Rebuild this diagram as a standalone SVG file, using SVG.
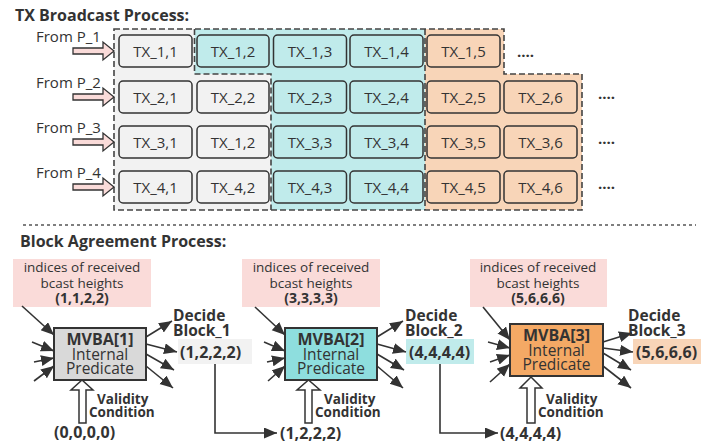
<svg xmlns="http://www.w3.org/2000/svg" width="723" height="447" viewBox="0 0 723 447">
<style>
text{font-family:"Open Sans","Noto Sans","Liberation Sans",sans-serif;fill:#333}
.title{font-size:16px;font-weight:bold}
.from{font-size:15px}
.tx{font-size:15px;text-anchor:middle}
.dots{font-size:15px;font-weight:bold}
.box{stroke:#333;stroke-width:1.5}
.g{fill:#f2f2f2}.c{fill:#c0ebeb}.o{fill:#f8d5b8}
.region{stroke:#444;stroke-width:1.6;stroke-dasharray:6 3;fill:none}
.pink{fill:#fadbd9}
.ptxt{font-size:13.5px;text-anchor:middle}
.pb{font-size:14px;font-weight:bold;text-anchor:middle}
.mv{stroke:#333;stroke-width:2}
.mvt{font-size:16px;font-weight:bold;text-anchor:middle}
.mvr{font-size:15.5px;text-anchor:middle}
.dec{font-size:15.5px;font-weight:bold}
.val{font-size:13.5px;font-weight:bold}
.tup{font-size:16px;font-weight:bold}
.ar{stroke:#333;stroke-width:1.6;fill:none;marker-end:url(#ah)}
.blk{fill:#fadbd9;stroke:#333;stroke-width:1.3}
.hol{fill:#fff;stroke:#333;stroke-width:1.5}
</style>
<defs>
<marker id="ah" markerUnits="userSpaceOnUse" markerWidth="14" markerHeight="12" refX="13" refY="5.5" orient="auto">
<path d="M0,0 L13,5.5 L0,11 z" fill="#333"/>
</marker>
</defs>

<text class="title" x="15" y="21">TX Broadcast Process:</text>

<g id="regions">
<path class="g" d="M114,29 H194.5 V74 H271 V210 H114 Z"/>
<path class="c" d="M194.5,29 H425 V210 H271 V74 H194.5 Z"/>
<path class="o" d="M425,29 H504 V74 H582 V210 H425 Z"/>
<path class="region" d="M114,29 H504 V74 H582 V210 H114 Z"/>
<path class="region" d="M194.5,29 V74 H271 V210"/>
<path class="region" d="M425,29 V210"/>
</g>

<g id="from-labels">
<text class="from" x="36" y="42">From P_1</text>
<text class="from" x="36" y="88">From P_2</text>
<text class="from" x="36" y="133">From P_3</text>
<text class="from" x="36" y="178">From P_4</text>
<path class="blk" d="M73,48 H103 V42 L114,51 L103,60 V54 H73 Z"/>
<path class="blk" d="M73,94 H103 V88 L114,97 L103,106 V100 H73 Z"/>
<path class="blk" d="M73,139 H103 V133 L114,142 L103,151 V145 H73 Z"/>
<path class="blk" d="M73,184 H103 V178 L114,187 L103,196 V190 H73 Z"/>
</g>

<g id="tx1">
<g id="tx_1_1"><rect class="box g" x="119" y="35" width="73" height="32" rx="4"/><text class="tx" x="155.5" y="57">TX_1,1</text></g>
<g id="tx_1_2"><rect class="box c" x="197" y="35" width="72" height="32" rx="4"/><text class="tx" x="233" y="57">TX_1,2</text></g>
<g id="tx_1_3"><rect class="box c" x="273.5" y="35" width="73" height="32" rx="4"/><text class="tx" x="310" y="57">TX_1,3</text></g>
<g id="tx_1_4"><rect class="box c" x="350" y="35" width="73" height="32" rx="4"/><text class="tx" x="386.5" y="57">TX_1,4</text></g>
<g id="tx_1_5"><rect class="box o" x="427" y="35" width="73" height="32" rx="4"/><text class="tx" x="463.5" y="57">TX_1,5</text></g>
<text class="dots" x="517" y="57">....</text>
</g>

<g id="tx2">
<g id="tx_2_1"><rect class="box g" x="119" y="81" width="73" height="32" rx="4"/><text class="tx" x="155.5" y="103">TX_2,1</text></g>
<g id="tx_2_2"><rect class="box g" x="197" y="81" width="72" height="32" rx="4"/><text class="tx" x="233" y="103">TX_2,2</text></g>
<g id="tx_2_3"><rect class="box c" x="273.5" y="81" width="73" height="32" rx="4"/><text class="tx" x="310" y="103">TX_2,3</text></g>
<g id="tx_2_4"><rect class="box c" x="350" y="81" width="73" height="32" rx="4"/><text class="tx" x="386.5" y="103">TX_2,4</text></g>
<g id="tx_2_5"><rect class="box o" x="427" y="81" width="73" height="32" rx="4"/><text class="tx" x="463.5" y="103">TX_2,5</text></g>
<g id="tx_2_6"><rect class="box o" x="504" y="81" width="73" height="32" rx="4"/><text class="tx" x="540.5" y="103">TX_2,6</text></g>
<text class="dots" x="598" y="99">....</text>
</g>

<g id="tx3">
<g id="tx_3_1"><rect class="box g" x="119" y="126" width="73" height="32" rx="4"/><text class="tx" x="155.5" y="148">TX_3,1</text></g>
<g id="tx_3_2"><rect class="box g" x="197" y="126" width="72" height="32" rx="4"/><text class="tx" x="233" y="148">TX_1,2</text></g>
<g id="tx_3_3"><rect class="box c" x="273.5" y="126" width="73" height="32" rx="4"/><text class="tx" x="310" y="148">TX_3,3</text></g>
<g id="tx_3_4"><rect class="box c" x="350" y="126" width="73" height="32" rx="4"/><text class="tx" x="386.5" y="148">TX_3,4</text></g>
<g id="tx_3_5"><rect class="box o" x="427" y="126" width="73" height="32" rx="4"/><text class="tx" x="463.5" y="148">TX_3,5</text></g>
<g id="tx_3_6"><rect class="box o" x="504" y="126" width="73" height="32" rx="4"/><text class="tx" x="540.5" y="148">TX_3,6</text></g>
<text class="dots" x="598" y="144">....</text>
</g>

<g id="tx4">
<g id="tx_4_1"><rect class="box g" x="119" y="171" width="73" height="32" rx="4"/><text class="tx" x="155.5" y="193">TX_4,1</text></g>
<g id="tx_4_2"><rect class="box g" x="197" y="171" width="72" height="32" rx="4"/><text class="tx" x="233" y="193">TX_4,2</text></g>
<g id="tx_4_3"><rect class="box c" x="273.5" y="171" width="73" height="32" rx="4"/><text class="tx" x="310" y="193">TX_4,3</text></g>
<g id="tx_4_4"><rect class="box c" x="350" y="171" width="73" height="32" rx="4"/><text class="tx" x="386.5" y="193">TX_4,4</text></g>
<g id="tx_4_5"><rect class="box o" x="427" y="171" width="73" height="32" rx="4"/><text class="tx" x="463.5" y="193">TX_4,5</text></g>
<g id="tx_4_6"><rect class="box o" x="504" y="171" width="73" height="32" rx="4"/><text class="tx" x="540.5" y="193">TX_4,6</text></g>
<text class="dots" x="598" y="189">....</text>
</g>

<line x1="23" y1="225" x2="696" y2="225" stroke="#555" stroke-width="1.5" stroke-dasharray="3 3"/>
<text class="title" x="20" y="247">Block Agreement Process:</text>

<g id="pink1"><rect class="pink" x="13" y="259" width="138" height="48"/>
<text class="ptxt" x="82" y="272">indices of received</text><text class="ptxt" x="82" y="288">bcast heights</text><text class="pb" x="82" y="303">(1,1,2,2)</text></g>
<g id="pink2"><rect class="pink" x="242" y="259" width="138" height="48"/>
<text class="ptxt" x="311" y="272">indices of received</text><text class="ptxt" x="311" y="288">bcast heights</text><text class="pb" x="311" y="303">(3,3,3,3)</text></g>
<g id="pink3"><rect class="pink" x="470" y="259" width="137" height="48"/>
<text class="ptxt" x="538" y="272">indices of received</text><text class="ptxt" x="538" y="288">bcast heights</text><text class="pb" x="538" y="303">(5,6,6,6)</text></g>

<g id="mvba1"><rect class="mv" x="54" y="328" width="92" height="52" fill="#d9d9d9"/>
<text class="mvt" x="100" y="345">MVBA[1]</text><text class="mvr" x="100" y="360">Internal</text><text class="mvr" x="100" y="374">Predicate</text></g>
<g id="mvba2"><rect class="mv" x="285" y="328" width="92" height="52" fill="#8edede"/>
<text class="mvt" x="331" y="345">MVBA[2]</text><text class="mvr" x="331" y="360">Internal</text><text class="mvr" x="331" y="374">Predicate</text></g>
<g id="mvba3"><rect class="mv" x="510" y="324" width="93" height="52" fill="#f4a965"/>
<text class="mvt" x="556.5" y="341">MVBA[3]</text><text class="mvr" x="556.5" y="356">Internal</text><text class="mvr" x="556.5" y="370">Predicate</text></g>

<g id="out1"><rect x="178" y="339" width="74" height="25" fill="#f2f2f2"/><text class="tup" x="180" y="358">(1,2,2,2)</text></g>
<g id="out2"><rect x="406" y="339" width="68" height="25" fill="#c0ebeb"/><text class="tup" x="409" y="358">(4,4,4,4)</text></g>
<g id="out3"><rect x="633" y="339" width="68" height="25" fill="#f8d5b8"/><text class="tup" x="636" y="358">(5,6,6,6)</text></g>

<g id="labels">
<text class="dec" x="173" y="321">Decide</text><text class="dec" x="173" y="336">Block_1</text>
<text class="dec" x="405" y="321">Decide</text><text class="dec" x="405" y="336">Block_2</text>
<text class="dec" x="628" y="321">Decide</text><text class="dec" x="628" y="336">Block_3</text>
<text class="val" x="97" y="404">Validity</text><text class="val" x="89" y="417">Condition</text>
<text class="val" x="324" y="404">Validity</text><text class="val" x="315" y="417">Condition</text>
<text class="val" x="546" y="404">Validity</text><text class="val" x="538" y="417">Condition</text>
<text class="tup" x="54" y="438">(0,0,0,0)</text>
<text class="tup" x="280" y="439">(1,2,2,2)</text>
<text class="tup" x="500" y="439">(4,4,4,4)</text>
</g>

<g id="connectors">
<path class="hol" d="M79,423 V390 H71 L82,380 L93,390 H86 V423 Z"/>
<path class="hol" d="M305,423 V390 H297 L308.5,380 L320,390 H312 V423 Z"/>
<path class="hol" d="M527,423 V388 H520 L531,377 L542,388 H535 V423 Z"/>

<line class="ar" x1="22" y1="306" x2="54" y2="335"/>
<line class="ar" x1="32" y1="342" x2="54" y2="351"/>
<line class="ar" x1="34" y1="362" x2="54" y2="358"/>
<line class="ar" x1="34" y1="381" x2="54" y2="366"/>
<line class="ar" x1="146" y1="337" x2="172" y2="321"/>
<line class="ar" x1="146" y1="344" x2="177" y2="352"/>
<line class="ar" x1="146" y1="354" x2="174" y2="370"/>
<line class="ar" x1="146" y1="366" x2="173" y2="388"/>

<line class="ar" x1="255" y1="307" x2="285" y2="335"/>
<line class="ar" x1="264" y1="342" x2="285" y2="351"/>
<line class="ar" x1="267" y1="362" x2="285" y2="358"/>
<line class="ar" x1="268" y1="381" x2="285" y2="366"/>
<line class="ar" x1="377" y1="337" x2="403" y2="321"/>
<line class="ar" x1="377" y1="344" x2="406" y2="352"/>
<line class="ar" x1="377" y1="354" x2="404" y2="370"/>
<line class="ar" x1="377" y1="366" x2="403" y2="388"/>

<line class="ar" x1="483" y1="307" x2="510" y2="340"/>
<line class="ar" x1="488" y1="342" x2="510" y2="348"/>
<line class="ar" x1="490" y1="362" x2="510" y2="355"/>
<line class="ar" x1="490" y1="382" x2="510" y2="364"/>
<line class="ar" x1="603" y1="342" x2="632" y2="333"/>
<line class="ar" x1="603" y1="348" x2="633" y2="352"/>
<line class="ar" x1="603" y1="353" x2="631" y2="370"/>
<line class="ar" x1="603" y1="366" x2="631" y2="388"/>

<path class="ar" d="M215,364 V433 H277"/>
<path class="ar" d="M440,364 V433 H498"/>
</g>
</svg>
